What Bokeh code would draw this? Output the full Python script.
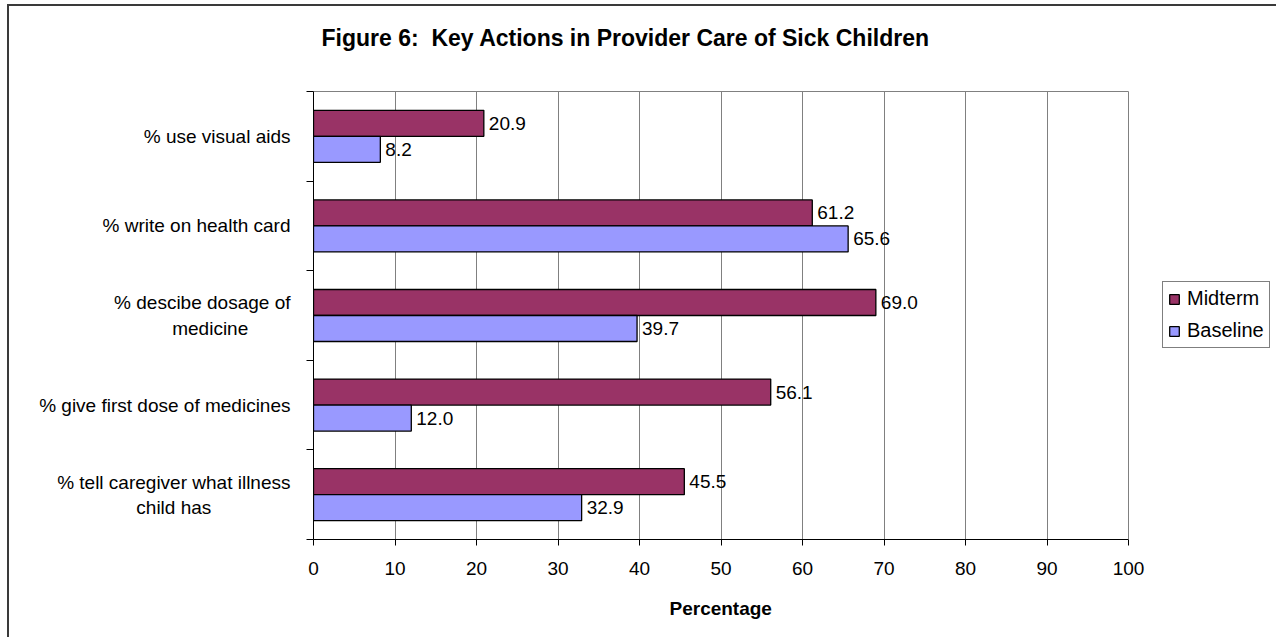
from bokeh.plotting import figure
from bokeh.models import (ColumnDataSource, FixedTicker, Legend, LegendItem, LabelSet,
                          Range1d, Title, LinearAxis, Span)
from bokeh.core.properties import value
from bokeh.embed import file_html
from bokeh.resources import INLINE

# ---- data (top to bottom, as in the reference) ----
categories = [
    "% use visual aids",
    "% write on health card",
    "% descibe dosage of medicine",
    "% give first dose of medicines",
    "% tell caregiver what illness child has",
]
NB = "\u00a0"
category_labels = [
    "% use visual aids",
    "% write on health card",
    "% descibe dosage of\nmedicine" + NB * 8,
    "% give first dose of medicines",
    "% tell caregiver what illness\nchild has" + NB * 15,
]
midterm = [20.9, 61.2, 69.0, 56.1, 45.5]
baseline = [8.2, 65.6, 39.7, 12.0, 32.9]
x_ticks = [0, 10, 20, 30, 40, 50, 60, 70, 80, 90, 100]
x_max = 100
series_names = ["Midterm", "Baseline"]
title_text = "Figure 6:" + NB + " Key Actions in Provider Care of Sick Children"
x_title = "Percentage"

FONT = "Liberation Sans"
MAROON = "#993366"
LAVENDER = "#9999FF"
GRID = "#808080"
EDGE = "#3a3a3a"

n = len(categories)
centers = [n - i - 0.5 for i in range(n)]
shift = 0.145
bar_h = 0.29

src_mid = ColumnDataSource(dict(y=[c + shift for c in centers], x=midterm,
                                txt=[f"{v:.1f}" for v in midterm]))
src_base = ColumnDataSource(dict(y=[c - shift for c in centers], x=baseline,
                                 txt=[f"{v:.1f}" for v in baseline]))

# layout (page pixels): plot area 0..100 spans x 313..1128; the frame is extended to the
# right so that the legend can sit inside it.
W, H = 1276, 637
px_per_unit = (1128 - 313) / x_max
frame_right = 1274
x_end = (frame_right - 313) / px_per_unit

# outer chart border (top and left edges; it runs off the page elsewhere), drawn as
# page background behind a transparent figure border area
edge_bg = (f"linear-gradient({EDGE},{EDGE}) 7px 4px / 2px 100% no-repeat, "
           f"linear-gradient({EDGE},{EDGE}) 7px 4px / 100% 2px no-repeat, white")

p = figure(width=W, height=H, output_backend="svg", toolbar_location=None,
           x_range=Range1d(0, x_end), y_range=Range1d(0, n),
           min_border_left=313, min_border_right=W - frame_right,
           min_border_top=91, min_border_bottom=H - 539,
           background_fill_color="white", border_fill_alpha=0,
           styles={"background": edge_bg})

p.title = Title(text=title_text, align="left", offset=8, standoff=43,
                text_font=FONT, text_font_size="23px", text_font_style="bold",
                text_color="black")

r_mid = p.hbar(y="y", right="x", left=0, height=bar_h, source=src_mid,
               fill_color=MAROON, line_color="black", line_width=1.3)
r_base = p.hbar(y="y", right="x", left=0, height=bar_h, source=src_base,
                fill_color=LAVENDER, line_color="black", line_width=1.3)

for s in (src_mid, src_base):
    p.add_layout(LabelSet(x="x", y="y", text="txt", source=s, x_offset=5,
                          text_baseline="middle", text_align="left",
                          text_font=value(FONT), text_font_size=value("19px"),
                          text_color="black"))

# x axis
xa = p.xaxis[0]
xa.ticker = FixedTicker(ticks=x_ticks, minor_ticks=[])
xa.bounds = (0, x_max)
xa.major_tick_in = 0
xa.major_tick_out = 6
xa.minor_tick_out = 0
xa.axis_line_color = "black"
xa.major_tick_line_color = "black"
xa.major_label_text_font = FONT
xa.major_label_text_font_size = "19px"
xa.major_label_text_color = "black"
xa.major_label_standoff = 16

# x-axis title, centred under the 0..100 plot area
p.add_layout(Title(text=x_title, align="left", offset=356, standoff=36,
                   text_font=FONT, text_font_size="19px", text_font_style="bold",
                   text_color="black"), "below")

# top border of the plot area as a bare axis bounded to 0..100 (its blank label
# only reserves a little room between the title and the plot area)
top = LinearAxis(bounds=(0, x_max), ticker=FixedTicker(ticks=[], minor_ticks=[]),
                 axis_line_color=GRID, axis_line_width=1,
                 major_tick_in=0, major_tick_out=0, minor_tick_in=0, minor_tick_out=0,
                 major_tick_line_color=None, minor_tick_line_color=None,
                 major_label_text_font_size="0px",
                 axis_label=NB, axis_label_text_font_size="10px", axis_label_standoff=5)
p.add_layout(top, "above")

# right border of the plot area
p.add_layout(Span(location=x_max, dimension="height", line_color=GRID, line_width=1))

# y axis: labels at centers, tick marks at category boundaries
ya = p.yaxis[0]
ya.ticker = FixedTicker(ticks=centers, minor_ticks=list(range(n + 1)))
ya.major_label_overrides = {c: lab for c, lab in zip(centers, category_labels)}
ya.major_tick_in = 0
ya.major_tick_out = 0
ya.minor_tick_in = 0
ya.minor_tick_out = 7
ya.minor_tick_line_color = "black"
ya.axis_line_color = "black"
ya.major_label_text_font = FONT
ya.major_label_text_font_size = "19px"
ya.major_label_text_color = "black"
ya.major_label_standoff = 16

p.xgrid.ticker = FixedTicker(ticks=x_ticks)
p.xgrid.grid_line_color = GRID
p.xgrid.grid_line_width = 1
p.ygrid.visible = False
p.outline_line_color = None

legend = Legend(items=[LegendItem(label=series_names[0], renderers=[r_mid]),
                       LegendItem(label=series_names[1], renderers=[r_base])],
                location=(1162 - 313, 539 - 348), orientation="vertical",
                border_line_color="black", border_line_width=1,
                background_fill_color="white", background_fill_alpha=1,
                padding=5, spacing=9, margin=0, glyph_width=12, glyph_height=12,
                label_standoff=7, label_text_font=FONT, label_text_font_size="20px",
                label_text_color="black")
p.add_layout(legend, "center")

open("out.html", "w").write(file_html(p, INLINE))
